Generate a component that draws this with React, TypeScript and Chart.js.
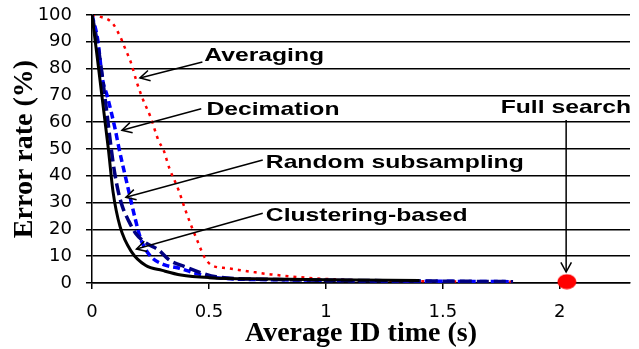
import React, { useEffect, useRef } from "react";
import { Chart, registerables } from "chart.js";
Chart.register(...registerables);

// Clustering-based (black solid)
const clusteringX = [0, 0.07, 0.09, 0.12, 0.17, 0.23, 0.3, 0.38, 0.5, 0.75, 1.0, 1.4];
const clusteringY = [100, 50, 34, 21, 11.5, 6.5, 4.7, 3, 2, 1.5, 1.2, 0.9];

// Random subsampling (navy long dash)
const randomX = [0, 0.03, 0.06, 0.09, 0.11, 0.13, 0.158, 0.186, 0.23, 0.285, 0.33, 0.4, 0.47, 0.53, 0.8, 1.2, 1.8];
const randomY = [100, 86, 66, 45, 35, 28.5, 23, 18.6, 15, 12.3, 8.6, 6, 3.7, 2.3, 1.3, 0.9, 0.5];

// Decimation (blue short dash)
const decimationX = [0, 0.024, 0.045, 0.066, 0.1, 0.116, 0.15, 0.186, 0.21, 0.25, 0.31, 0.37, 0.44, 0.55, 0.8, 1.2, 1.8];
const decimationY = [100, 91, 76, 69.5, 57, 50, 37, 23.5, 16, 10, 6.8, 5.6, 3.7, 1.8, 1.2, 0.8, 0.5];

// Averaging (red dotted)
const averagingX = [0, 0.03, 0.087, 0.12, 0.144, 0.165, 0.193, 0.22, 0.25, 0.285, 0.306, 0.33, 0.37, 0.4, 0.426, 0.455, 0.48, 0.51, 0.58, 0.68, 0.765, 1.0, 1.3, 1.8];
const averagingY = [100, 99.5, 97, 92, 87, 82.6, 74.5, 68, 62, 53, 49.6, 43, 34.7, 27, 21, 14.8, 9.8, 6.7, 5.5, 4.2, 3.2, 1.5, 0.8, 0.5];

// Full search (single red point)
const fullSearchX = [2.03];
const fullSearchY = [0.5];

const xTicks = [0, 0.5, 1, 1.5, 2];
const yTicks = [0, 10, 20, 30, 40, 50, 60, 70, 80, 90, 100];

const xTitle = "Average ID time (s)";
const yTitle = "Error rate (%)";

// Annotation labels: text anchor, arrow start and arrow tip, in data units
const annotationLabels = ["Averaging", "Decimation", "Random subsampling", "Clustering-based", "Full search"];
const annotationText = [
  [0.48, 84.7],
  [0.489, 64.6],
  [0.743, 45],
  [0.743, 25],
  [1.747, 65.3],
];
const annotationFrom = [
  [0.472, 82.5],
  [0.467, 65],
  [0.73, 45.9],
  [0.73, 26],
  [2.027, 60.8],
];
const annotationTo = [
  [0.205, 76.5],
  [0.128, 57],
  [0.145, 32],
  [0.19, 12.7],
  [2.027, 4.1],
];

const toPoints = (xs: number[], ys: number[]) => xs.map((x, i) => ({ x, y: ys[i] }));

function makeEllipse(): HTMLCanvasElement {
  const c = document.createElement("canvas");
  c.width = 20;
  c.height = 16;
  const g = c.getContext("2d")!;
  g.fillStyle = "#FF0000";
  g.beginPath();
  g.ellipse(10, 8, 9.5, 7.5, 0, 0, Math.PI * 2);
  g.fill();
  return c;
}

const annotationPlugin = {
  id: "annots",
  afterDatasetsDraw(chart: any) {
    const { ctx, scales } = chart;
    const xs = scales.x;
    const ys = scales.y;
    ctx.save();
    ctx.strokeStyle = "#000";
    ctx.fillStyle = "#000";
    ctx.lineWidth = 1.5;
    annotationLabels.forEach((label, i) => {
      const fx = xs.getPixelForValue(annotationFrom[i][0]);
      const fy = ys.getPixelForValue(annotationFrom[i][1]);
      const tx = xs.getPixelForValue(annotationTo[i][0]);
      const ty = ys.getPixelForValue(annotationTo[i][1]);
      ctx.beginPath();
      ctx.moveTo(fx, fy);
      ctx.lineTo(tx, ty);
      ctx.stroke();
      const ang = Math.atan2(ty - fy, tx - fx);
      const len = 11;
      const spread = 0.5;
      ctx.beginPath();
      ctx.moveTo(tx - len * Math.cos(ang - spread), ty - len * Math.sin(ang - spread));
      ctx.lineTo(tx, ty);
      ctx.lineTo(tx - len * Math.cos(ang + spread), ty - len * Math.sin(ang + spread));
      ctx.stroke();

      const px = xs.getPixelForValue(annotationText[i][0]);
      const py = ys.getPixelForValue(annotationText[i][1]);
      ctx.save();
      ctx.translate(px, py);
      ctx.scale(1.3, 1);
      ctx.font = "bold 19px 'Liberation Sans', Arial, sans-serif";
      ctx.textAlign = "left";
      ctx.textBaseline = "middle";
      ctx.fillText(label, 0, 0);
      ctx.restore();
    });
    ctx.restore();
  },
};

export default function App() {
  const canvasRef = useRef<HTMLCanvasElement | null>(null);

  useEffect(() => {
    if (!canvasRef.current) return;
    const chart = new Chart(canvasRef.current, {
      type: "line",
      data: {
        datasets: [
          {
            label: "Full search",
            data: toPoints(fullSearchX, fullSearchY),
            showLine: false,
            pointStyle: makeEllipse() as any,
            pointRadius: 8,
            backgroundColor: "#FF0000",
            borderColor: "#FF0000",
            clip: false as any,
          },
          {
            label: "Clustering-based",
            data: toPoints(clusteringX, clusteringY),
            borderColor: "#000000",
            borderWidth: 3,
            pointRadius: 0,
            cubicInterpolationMode: "monotone",
            fill: false,
          },
          {
            label: "Random subsampling",
            data: toPoints(randomX, randomY),
            borderColor: "#000080",
            borderWidth: 3.5,
            borderDash: [12, 5],
            pointRadius: 0,
            cubicInterpolationMode: "monotone",
            fill: false,
          },
          {
            label: "Decimation",
            data: toPoints(decimationX, decimationY),
            borderColor: "#0000FF",
            borderWidth: 3.5,
            borderDash: [7, 4],
            pointRadius: 0,
            cubicInterpolationMode: "monotone",
            fill: false,
          },
          {
            label: "Averaging",
            data: toPoints(averagingX, averagingY),
            borderColor: "#FF0000",
            borderWidth: 2.5,
            borderDash: [3, 5],
            pointRadius: 0,
            cubicInterpolationMode: "monotone",
            fill: false,
          },
        ],
      },
      options: {
        animation: false,
        responsive: true,
        maintainAspectRatio: false,
        layout: { padding: { top: 15, right: 4, left: 0, bottom: 0 } },
        plugins: {
          legend: { display: false },
          tooltip: { enabled: false },
        },
        scales: {
          x: {
            type: "linear",
            min: 0,
            max: 2.3,
            afterFit: (s: any) => {
              s.height = 66;
              s.paddingLeft = 0;
              s.paddingRight = 0;
            },
            afterBuildTicks: (s: any) => {
              s.ticks = xTicks.map((v) => ({ value: v }));
            },
            ticks: {
              color: "#000",
              padding: 13,
              font: { family: "'DejaVu Sans', sans-serif", size: 18 },
              callback: (v: any) => String(v),
            },
            grid: {
              display: true,
              drawOnChartArea: false,
              drawTicks: true,
              tickLength: 6,
              color: "#000",
              lineWidth: 1.5,
            },
            border: { display: true, color: "#000", width: 1.5 },
            title: {
              display: true,
              text: xTitle,
              color: "#000",
              font: { family: "'Liberation Serif', 'Times New Roman', serif", size: 28, weight: "bold" },
              padding: { top: 0, bottom: -2 },
            },
          },
          y: {
            type: "linear",
            min: 0,
            max: 100,
            afterFit: (s: any) => {
              s.width = 92;
              s.paddingTop = 0;
              s.paddingBottom = 0;
            },
            afterBuildTicks: (s: any) => {
              s.ticks = yTicks.map((v) => ({ value: v }));
            },
            ticks: {
              color: "#000",
              padding: 14,
              font: { family: "'DejaVu Sans', sans-serif", size: 18 },
            },
            grid: {
              display: true,
              drawOnChartArea: true,
              drawTicks: true,
              tickLength: 6,
              color: "#000",
              lineWidth: 1.5,
            },
            border: { display: true, color: "#000", width: 1.5 },
            title: {
              display: true,
              text: yTitle,
              color: "#000",
              font: { family: "'Liberation Serif', 'Times New Roman', serif", size: 28, weight: "bold" },
              padding: { top: 8, bottom: 0 },
            },
          },
        },
      },
      plugins: [annotationPlugin],
    });
    return () => chart.destroy();
  }, []);

  return (
    <div style={{ position: "absolute", left: 0, top: 0, width: 639, height: 349, background: "#fff" }}>
      <canvas ref={canvasRef} />
    </div>
  );
}
